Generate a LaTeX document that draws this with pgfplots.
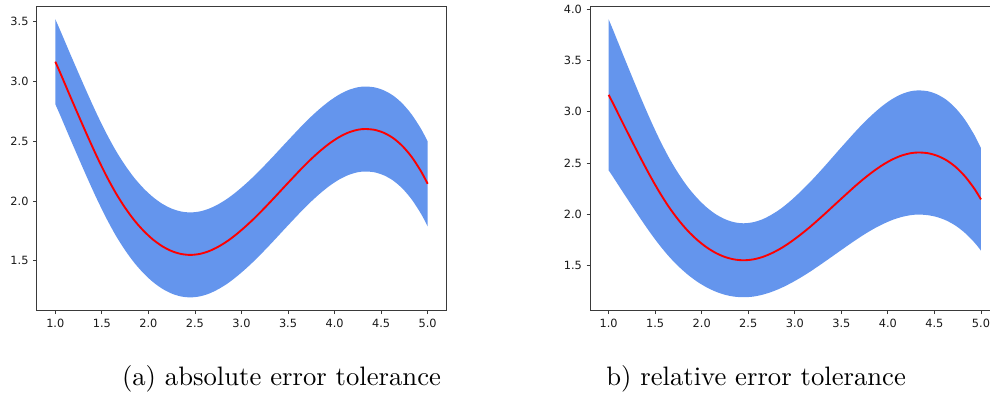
\documentclass[border=0pt]{standalone}
\usepackage{fontspec}
\usepackage{pgfplots}
\usepackage{pgfplotstable}
\pgfplotsset{compat=1.18}
\usepgfplotslibrary{fillbetween}
\newfontfamily\dejavu{DejaVu Sans}
\newfontfamily\capfont{lmroman10-regular.otf}
\definecolor{band}{HTML}{6495ED}
\definecolor{spine}{HTML}{3A3A3A}

\pgfplotstableread{
x    f     ua    la    ur    lr
1.00 3.165 3.520 2.810 3.902 2.428
1.05 3.077 3.432 2.722 3.794 2.360
1.15 2.894 3.249 2.539 3.568 2.220
1.25 2.714 3.069 2.359 3.346 2.082
1.35 2.537 2.892 2.182 3.128 1.946
1.45 2.367 2.722 2.012 2.919 1.815
1.55 2.209 2.564 1.854 2.724 1.694
1.65 2.067 2.422 1.712 2.549 1.585
1.75 1.944 2.299 1.589 2.397 1.491
1.85 1.838 2.193 1.483 2.266 1.410
1.95 1.750 2.105 1.395 2.158 1.342
2.05 1.678 2.033 1.323 2.069 1.287
2.15 1.622 1.977 1.267 2.000 1.244
2.25 1.582 1.937 1.227 1.951 1.213
2.35 1.558 1.913 1.203 1.921 1.195
2.45 1.550 1.905 1.195 1.911 1.189
2.55 1.558 1.913 1.203 1.921 1.195
2.65 1.581 1.936 1.226 1.949 1.213
2.75 1.618 1.973 1.263 1.995 1.241
2.85 1.666 2.021 1.311 2.054 1.278
2.95 1.725 2.080 1.370 2.127 1.323
3.05 1.792 2.147 1.437 2.210 1.374
3.15 1.865 2.220 1.510 2.300 1.430
3.25 1.944 2.299 1.589 2.397 1.491
3.35 2.026 2.381 1.671 2.498 1.554
3.45 2.110 2.465 1.755 2.602 1.618
3.55 2.193 2.548 1.838 2.704 1.682
3.65 2.275 2.630 1.920 2.805 1.745
3.75 2.352 2.707 1.997 2.900 1.804
3.85 2.422 2.777 2.067 2.986 1.858
3.95 2.484 2.839 2.129 3.063 1.905
4.05 2.535 2.890 2.180 3.126 1.944
4.15 2.573 2.928 2.218 3.173 1.973
4.25 2.596 2.951 2.241 3.201 1.991
4.33 2.602 2.957 2.247 3.208 1.996
4.43 2.595 2.950 2.240 3.200 1.990
4.53 2.570 2.925 2.215 3.169 1.971
4.63 2.526 2.881 2.171 3.115 1.937
4.73 2.459 2.814 2.104 3.032 1.886
4.83 2.367 2.722 2.012 2.919 1.815
4.93 2.247 2.602 1.892 2.771 1.723
5.00 2.144 2.499 1.789 2.644 1.644
}\data

\pgfplotsset{mystyle/.style={
  scale only axis, width=307.2pt, height=228.5pt,
  xmin=0.8, xmax=5.2,
  axis line style={spine, line width=0.75pt},
  tick style={spine, line width=0.6pt},
  major tick length=2.6pt, tick align=outside,
  xtick pos=left, ytick pos=left,
  xtick={1,1.5,2,2.5,3,3.5,4,4.5,5},
  ticklabel style={font=\dejavu\fontsize{8.5}{10}\selectfont, text=black!90},
  /pgf/number format/assume math mode=true,
  xticklabel style={/pgf/number format/fixed, /pgf/number format/fixed zerofill, /pgf/number format/precision=1},
  yticklabel style={/pgf/number format/fixed, /pgf/number format/fixed zerofill, /pgf/number format/precision=1},
}}

\begin{document}
\begin{tikzpicture}
\begin{axis}[mystyle, at={(27.5pt,62.5pt)}, anchor=south west,
  ymin=1.084, ymax=3.630, ytick={1.5,2,2.5,3,3.5}]
\addplot[name path=ua, draw=none, smooth] table[x=x,y=ua]{\data};
\addplot[name path=la, draw=none, smooth] table[x=x,y=la]{\data};
\addplot[band, draw=none] fill between[of=ua and la];
\addplot[red, line width=1.4pt, smooth] table[x=x,y=f]{\data};
\end{axis}
\begin{axis}[mystyle, at={(442.5pt,62.5pt)}, anchor=south west,
  ymin=1.058, ymax=4.032, ytick={1.5,2,2.5,3,3.5,4}]
\addplot[name path=ur, draw=none, smooth] table[x=x,y=ur]{\data};
\addplot[name path=lr, draw=none, smooth] table[x=x,y=lr]{\data};
\addplot[band, draw=none] fill between[of=ur and lr];
\addplot[red, line width=1.4pt, smooth] table[x=x,y=f]{\data};
\end{axis}
\node[anchor=base west, inner sep=0pt, font=\capfont\fontsize{20}{24}\selectfont] at (91.3pt,6.75pt) {(a) absolute error tolerance};
\node[anchor=base west, inner sep=0pt, font=\capfont\fontsize{20}{24}\selectfont] at (454.5pt,6.75pt) {b) relative error tolerance};
\pgfresetboundingbox
\path[use as bounding box] (0pt,0pt) rectangle (742.5pt,295.5pt);
\end{tikzpicture}
\end{document}
